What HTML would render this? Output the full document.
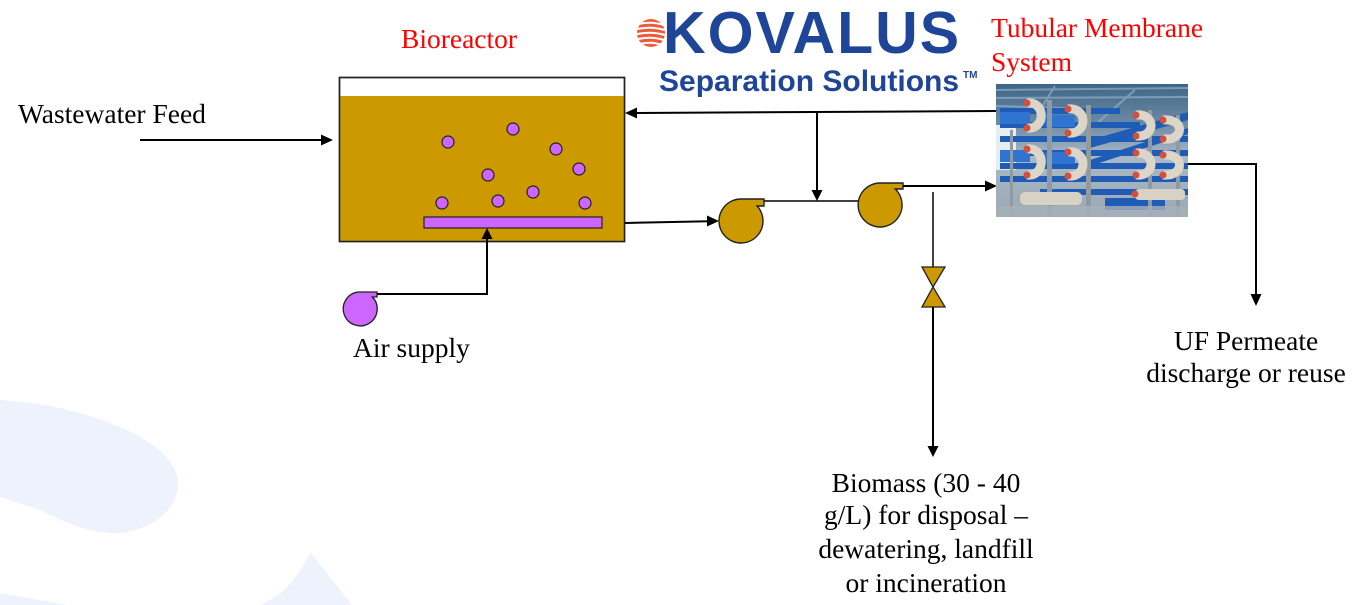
<!DOCTYPE html>
<html>
<head>
<meta charset="utf-8">
<style>
  html, body { margin: 0; padding: 0; background: #ffffff; }
  body { width: 1355px; height: 605px; overflow: hidden; position: relative; }
  svg { position: absolute; left: 0; top: 0; }
  .t { font-family: "Liberation Serif", "Times New Roman", serif; font-size: 27.5px; fill: #000; }
  .r { fill: #ff0000; }
</style>
</head>
<body>
<svg width="1355" height="605" viewBox="0 0 1355 605" xmlns="http://www.w3.org/2000/svg">
  <!-- background swoosh -->
  <path d="M0,400 C40,402 90,412 133,433 C160,447 178,465 178,483 C178,510 150,533 113,533 C90,533 67,523 40,510 L0,497 Z" fill="#edf2fd"/>
  <path d="M0,593 L67,605 L0,605 Z" fill="#edf2fd"/>
  <path d="M260,605 C285,595 300,575 310,552 L352,605 Z" fill="#edf2fd"/>

  <!-- Logo -->
  <g>
    <circle cx="651" cy="33" r="14" fill="#ee5b3b"/>
    <g stroke="#ffffff" stroke-width="2" fill="none">
      <path d="M638,24 Q651,21 664,25"/>
      <path d="M637,29 Q651,26 665,30"/>
      <path d="M637,34 Q651,31 665,35"/>
      <path d="M638,39 Q651,36 664,40"/>
      <path d="M640,44 Q651,41 662,45"/>
    </g>
    <text x="663" y="53" font-family="Liberation Sans, Arial, sans-serif" font-weight="bold" font-size="59" fill="#1e4597" letter-spacing="2">KOVALUS</text>
    <text x="659" y="91" font-family="Liberation Sans, Arial, sans-serif" font-weight="bold" font-size="30" fill="#1e4597">Separation Solutions</text>
    <text x="963" y="78" font-family="Liberation Sans, Arial, sans-serif" font-weight="bold" font-size="10" fill="#1e4597">TM</text>
  </g>

  <!-- Labels -->
  <text class="t r" x="401" y="48">Bioreactor</text>
  <text class="t r" x="991" y="37">Tubular Membrane</text>
  <text class="t r" x="991" y="71">System</text>
  <text class="t" x="18" y="123">Wastewater Feed</text>
  <text class="t" x="353" y="357">Air supply</text>
  <text class="t" x="1246" y="350" text-anchor="middle">UF Permeate</text>
  <text class="t" x="1246" y="382" text-anchor="middle">discharge or reuse</text>
  <text class="t" x="926" y="492" text-anchor="middle">Biomass (30 - 40</text>
  <text class="t" x="926" y="524" text-anchor="middle">g/L) for disposal –</text>
  <text class="t" x="926" y="558" text-anchor="middle">dewatering, landfill</text>
  <text class="t" x="926" y="592" text-anchor="middle">or incineration</text>

  <!-- Bioreactor tank -->
  <rect x="339.5" y="77.5" width="285" height="164" fill="#ffffff" stroke="#222" stroke-width="1.5"/>
  <rect x="340.3" y="96" width="283.5" height="144.7" fill="#cc9900"/>
  <rect x="339.5" y="77.5" width="285" height="164" fill="none" stroke="#222" stroke-width="1.5"/>
  <!-- bubbles -->
  <g fill="#cc66ff" stroke="#222" stroke-width="1.2">
    <circle cx="448" cy="142" r="6"/>
    <circle cx="513" cy="129" r="6"/>
    <circle cx="556" cy="149" r="6"/>
    <circle cx="579" cy="169" r="6"/>
    <circle cx="488" cy="175" r="6"/>
    <circle cx="533" cy="192" r="6"/>
    <circle cx="442" cy="203" r="6"/>
    <circle cx="498" cy="201" r="6"/>
    <circle cx="585" cy="203" r="6"/>
  </g>
  <!-- diffuser -->
  <rect x="424" y="217" width="178" height="11" fill="#cc66ff" stroke="#222" stroke-width="1.2"/>

  <!-- Air blower -->
  <path d="M358,292 L377,292 L377,297 L372.4,297 A17 17 0 1 1 358,292 Z" fill="#cc66ff" stroke="#222" stroke-width="1.3"/>
  <polyline points="377,294 487,294 487,238" fill="none" stroke="#000" stroke-width="2"/>
  <polygon points="487,228 481.5,239 492.5,239" fill="#000"/>

  <!-- Feed arrow -->
  <line x1="140" y1="140" x2="322" y2="140" stroke="#000" stroke-width="2"/>
  <polygon points="333,140 321,134.5 321,145.5" fill="#000"/>

  <!-- Tank to pump1 -->
  <line x1="625" y1="223" x2="709" y2="221.3" stroke="#000" stroke-width="2"/>
  <polygon points="719,221 707,215.5 707,226.5" fill="#000"/>

  <!-- Pump 1 -->
  <path d="M741,199 L764,199 L764,206 L757.1,206 A22 22 0 1 1 741,199 Z" fill="#cc9900" stroke="#222" stroke-width="1.4"/>
  <!-- pump1 to pump2 -->
  <line x1="764" y1="201" x2="858.5" y2="201" stroke="#000" stroke-width="1.5"/>
  <!-- Pump 2 -->
  <path d="M880,183 L903,183 L903,189 L895.2,189 A22 22 0 1 1 880,183 Z" fill="#cc9900" stroke="#222" stroke-width="1.4"/>

  <!-- Recycle line -->
  <line x1="997" y1="111" x2="636" y2="113" stroke="#000" stroke-width="2"/>
  <polygon points="625,113 637,107.5 637,118.5" fill="#000"/>
  <line x1="817" y1="112" x2="817" y2="191" stroke="#000" stroke-width="2"/>
  <polygon points="817,201 811.5,190 822.5,190" fill="#000"/>

  <!-- Pump2 outlet to membrane -->
  <line x1="903" y1="186" x2="986" y2="186" stroke="#000" stroke-width="2"/>
  <polygon points="997,186 985,180.5 985,191.5" fill="#000"/>

  <!-- Biomass line and valve -->
  <line x1="933" y1="192" x2="933" y2="267" stroke="#000" stroke-width="1.5"/>
  <polygon points="922,267 945,267 933,287 945,307 922,307 933,287" fill="#cc9900" stroke="#222" stroke-width="1.3" stroke-linejoin="miter"/>
  <line x1="933" y1="307" x2="933" y2="447" stroke="#000" stroke-width="2"/>
  <polygon points="933,457 927.5,446 938.5,446" fill="#000"/>

  <!-- Permeate line -->
  <polyline points="1188,164 1256,164 1256,295" fill="none" stroke="#000" stroke-width="2"/>
  <polygon points="1256,306 1250.5,294 1261.5,294" fill="#000"/>

  <!-- Membrane photo -->
  <defs>
    <linearGradient id="bg" x1="0" y1="0" x2="0" y2="1">
      <stop offset="0" stop-color="#3f6585"/>
      <stop offset="0.3" stop-color="#6d8ba6"/>
      <stop offset="0.55" stop-color="#a9b9c6"/>
      <stop offset="1" stop-color="#9aa8b4"/>
    </linearGradient>
    <clipPath id="pc"><rect x="996" y="84" width="192" height="133"/></clipPath>
  </defs>
  <g clip-path="url(#pc)">
    <rect x="996" y="84" width="192" height="133" fill="url(#bg)"/>
    <!-- roof stripes -->
    <g stroke="#8fb0cc" stroke-width="2" opacity="0.7">
      <line x1="996" y1="90" x2="1188" y2="88"/>
      <line x1="996" y1="98" x2="1188" y2="97"/>
      <line x1="996" y1="106" x2="1120" y2="110"/>
      <line x1="1055" y1="86" x2="1040" y2="110"/>
      <line x1="1135" y1="90" x2="1095" y2="125"/>
    </g>
    <!-- window -->
    <rect x="996" y="125" width="20" height="45" fill="#e6eef2"/>
    <!-- blue pipes -->
    <g fill="#1f5cb5">
      <rect x="1000" y="108" width="120" height="6"/>
      <rect x="1000" y="122" width="140" height="6"/>
      <rect x="1000" y="136" width="188" height="6"/>
      <rect x="1000" y="150" width="188" height="6"/>
      <rect x="1000" y="163" width="188" height="6"/>
      <rect x="1000" y="176" width="188" height="6"/>
      <rect x="1040" y="189" width="148" height="6"/>
      <polygon points="1090,140 1188,112 1188,120 1090,148"/>
      <polygon points="1090,160 1188,128 1188,134 1090,166"/>
      <rect x="1105" y="198" width="60" height="12"/>
    </g>
    <g fill="#2f74d0">
      <rect x="1000" y="112" width="30" height="12"/>
      <rect x="1000" y="150" width="30" height="12"/>
      <rect x="1045" y="115" width="30" height="12"/>
      <rect x="1045" y="152" width="30" height="12"/>
    </g>
    <!-- posts -->
    <g fill="#8f9aa3">
      <rect x="1047" y="100" width="5" height="117"/>
      <rect x="1086" y="105" width="5" height="112"/>
      <rect x="1148" y="110" width="4" height="107"/>
      <rect x="1176" y="115" width="4" height="102"/>
      <rect x="1010" y="130" width="3" height="87"/>
    </g>
    <!-- U-bends -->
    <g fill="none" stroke="#ddd6c8" stroke-width="9">
      <path d="M1027,103 C1046,101 1046,130 1027,128"/>
      <path d="M1027,149 C1046,147 1046,177 1027,175"/>
      <path d="M1068,109 C1088,107 1088,135 1068,133"/>
      <path d="M1068,152 C1088,150 1088,178 1068,176"/>
      <path d="M1136,115 C1156,113 1156,138 1136,136"/>
      <path d="M1136,153 C1156,151 1156,177 1136,175"/>
      <path d="M1163,120 C1185,118 1185,141 1163,139"/>
      <path d="M1163,155 C1185,153 1185,177 1163,175"/>
    </g>
    <g fill="#d8d2c4">
      <rect x="1020" y="192" width="62" height="13" rx="5"/>
      <rect x="1135" y="189" width="50" height="11" rx="4"/>
    </g>
    <!-- red caps -->
    <g fill="#d4503a">
      <circle cx="1027" cy="103" r="3.5"/><circle cx="1027" cy="128" r="3.5"/>
      <circle cx="1027" cy="149" r="3.5"/><circle cx="1027" cy="175" r="3.5"/>
      <circle cx="1068" cy="109" r="3.5"/><circle cx="1068" cy="133" r="3.5"/>
      <circle cx="1068" cy="152" r="3.5"/><circle cx="1068" cy="176" r="3.5"/>
      <circle cx="1136" cy="115" r="3.5"/><circle cx="1136" cy="136" r="3.5"/>
      <circle cx="1136" cy="153" r="3.5"/><circle cx="1136" cy="175" r="3.5"/>
      <circle cx="1163" cy="120" r="3.5"/><circle cx="1163" cy="139" r="3.5"/>
      <circle cx="1163" cy="155" r="3.5"/><circle cx="1163" cy="175" r="3.5"/>
      <circle cx="1135" cy="194" r="3.5"/>
    </g>
    <rect x="996" y="206" width="192" height="11" fill="#a7b0b8" opacity="0.8"/>
  </g>
</svg>
</body>
</html>
